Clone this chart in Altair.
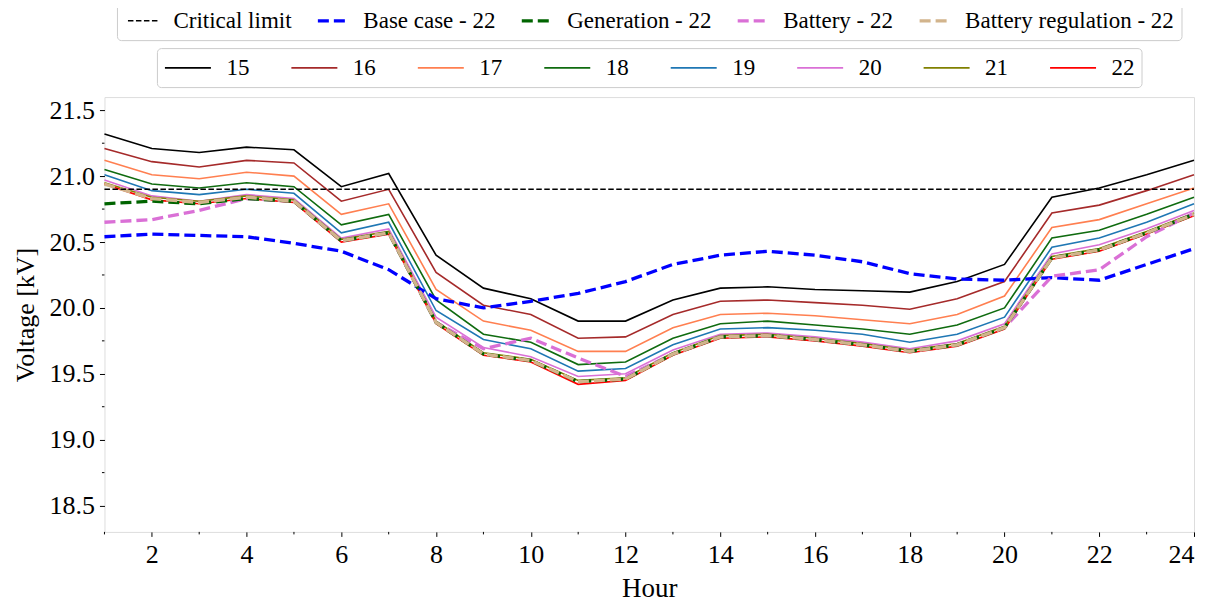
import altair as alt
import pandas as pd

# ---------------- data ----------------
hours = list(range(1, 25))

bus_names = ["15", "16", "17", "18", "19", "20", "21", "22"]
bus_colors = ["#000000", "#a52a2a", "#ff7f50", "#0f6b0f", "#1f77b4", "#da70d6", "#808000", "#ff0000"]

v15 = [21.32, 21.21, 21.18, 21.22, 21.20, 20.92, 21.02, 20.40, 20.15, 20.07, 19.90, 19.90,
       20.06, 20.15, 20.16, 20.14, 20.13, 20.12, 20.20, 20.33, 20.84, 20.91, 21.01, 21.12]
v16 = [21.21, 21.11, 21.07, 21.12, 21.10, 20.81, 20.90, 20.27, 20.02, 19.95, 19.77, 19.78,
       19.95, 20.05, 20.06, 20.04, 20.02, 19.99, 20.07, 20.20, 20.72, 20.78, 20.89, 21.01]
v17 = [21.12, 21.01, 20.98, 21.03, 21.00, 20.71, 20.79, 20.14, 19.90, 19.83, 19.67, 19.67,
       19.85, 19.95, 19.96, 19.94, 19.91, 19.88, 19.95, 20.09, 20.61, 20.67, 20.79, 20.91]
v18 = [21.05, 20.94, 20.91, 20.95, 20.92, 20.63, 20.71, 20.06, 19.80, 19.74, 19.57, 19.59,
       19.77, 19.88, 19.90, 19.87, 19.84, 19.80, 19.87, 20.00, 20.53, 20.59, 20.71, 20.84]
v19 = [21.01, 20.89, 20.86, 20.90, 20.87, 20.57, 20.65, 19.98, 19.76, 19.69, 19.52, 19.54,
       19.72, 19.84, 19.85, 19.83, 19.80, 19.74, 19.80, 19.93, 20.46, 20.53, 20.65, 20.79]
v20 = [20.97, 20.85, 20.81, 20.86, 20.83, 20.53, 20.60, 19.93, 19.70, 19.63, 19.48, 19.50,
       19.68, 19.80, 19.81, 19.78, 19.74, 19.69, 19.75, 19.88, 20.41, 20.48, 20.60, 20.74]
v21 = [20.95, 20.84, 20.81, 20.85, 20.82, 20.52, 20.58, 19.90, 19.66, 19.61, 19.45, 19.47,
       19.66, 19.79, 19.80, 19.77, 19.73, 19.68, 19.73, 19.86, 20.39, 20.45, 20.58, 20.72]
v22 = [20.94, 20.82, 20.79, 20.83, 20.80, 20.50, 20.56, 19.88, 19.64, 19.59, 19.42, 19.45,
       19.64, 19.77, 19.78, 19.75, 19.71, 19.66, 19.71, 19.84, 20.37, 20.43, 20.56, 20.70]

critical_limit = 20.9
base_case = [20.54, 20.56, 20.55, 20.54, 20.49, 20.43, 20.29, 20.07, 20.00, 20.05, 20.11, 20.20,
             20.33, 20.40, 20.43, 20.40, 20.35, 20.26, 20.22, 20.21, 20.23, 20.21, 20.33, 20.45]
generation = [20.79, 20.81, 20.79, 20.83, 20.81, 20.51, 20.57, 19.89, 19.65, 19.60, 19.44, 19.46,
              19.65, 19.78, 19.79, 19.76, 19.72, 19.67, 19.72, 19.85, 20.38, 20.44, 20.57, 20.71]
battery = [20.65, 20.67, 20.74, 20.83, 20.81, 20.51, 20.57, 19.89, 19.69, 19.77, 19.62, 19.48,
           19.65, 19.78, 19.79, 19.76, 19.72, 19.67, 19.72, 19.85, 20.24, 20.29, 20.54, 20.72]
battery_reg = [20.94, 20.83, 20.80, 20.84, 20.81, 20.51, 20.57, 19.89, 19.65, 19.60, 19.44, 19.46,
               19.65, 19.78, 19.79, 19.76, 19.72, 19.67, 19.72, 19.85, 20.38, 20.44, 20.57, 20.71]

dashed_names = ["Critical limit", "Base case - 22", "Generation - 22", "Battery - 22",
                "Battery regulation - 22"]
dashed_colors = ["#000000", "#0000ff", "#006400", "#da70d6", "#d2b48c"]
dashed_patterns = [[5.5, 2.5], [11, 5], [11, 5], [11, 5], [11, 5]]

x_ticks = list(range(2, 25, 2))
x_minor = list(range(1, 25, 2))
y_ticks = [18.5, 19.0, 19.5, 20.0, 20.5, 21.0, 21.5]
y_minor = [18.75, 19.25, 19.75, 20.25, 20.75, 21.25]

# ---------------- tables ----------------
solid_series = [v15, v16, v17, v18, v19, v20, v21, v22]
solid_rows = []
for name, vals in zip(bus_names, solid_series):
    for h, v in zip(hours, vals):
        solid_rows.append({"hour": h, "voltage": v, "bus": name})
solid_df = pd.DataFrame(solid_rows)

# drawing order (later drawn on top); lw = line width
dashed_draw = [
    ("Base case - 22", base_case, 3.3),
    ("Battery - 22", battery, 3.3),
    ("Generation - 22", generation, 3.3),
    ("Battery regulation - 22", battery_reg, 3.3),
    ("Critical limit", [critical_limit] * len(hours), 1.5),
]
dashed_rows = []
for i, (name, vals, lw) in enumerate(dashed_draw):
    for h, v in zip(hours, vals):
        dashed_rows.append({"hour": h, "voltage": v, "series": name, "order": i, "lw": lw})
dashed_df = pd.DataFrame(dashed_rows)

FONT = "Liberation Serif"

xscale = alt.Scale(domain=[1, 24], nice=False, zero=False)
yscale = alt.Scale(domain=[18.3, 21.6], nice=False, zero=False)

x_axis = alt.Axis(values=x_ticks, title="Hour", format="d", grid=False, domain=False,
                  tickSize=4.5, tickColor="black", tickWidth=1,
                  labelFont=FONT, labelFontSize=26, labelColor="black", labelPadding=5,
                  titleFont=FONT, titleFontSize=27, titleFontWeight="normal",
                  titleColor="black", titlePadding=8)
y_axis = alt.Axis(values=y_ticks, title="Voltage [kV]", format=".1f", grid=False, domain=False,
                  tickSize=5, tickColor="black", tickWidth=1,
                  labelFont=FONT, labelFontSize=26, labelColor="black", labelPadding=5,
                  titleFont=FONT, titleFontSize=26, titleFontWeight="normal",
                  titleColor="black", titlePadding=10)

# a line symbol twice as long as the nominal symbol box (keeps the legend rows low)
LINE_PATH = "M-2,0H2"

solid_legend = alt.Legend(
    title=None, orient="none", legendX=52.5, legendY=-49, direction="horizontal",
    columns=8, symbolType=LINE_PATH, symbolSize=529, symbolOffset=11.5,
    symbolStrokeWidth=1.6, symbolFillColor="transparent",
    labelFont=FONT, labelFontSize=23, labelColor="black", labelOffset=26, labelLimit=400,
    columnPadding=37.5, padding=7, strokeColor="#cccccc", fillColor="white",
    cornerRadius=4,
)

dashed_legend = alt.Legend(
    title=None, orient="none", legendX=12.5, legendY=-95, direction="horizontal",
    columns=5, symbolType=LINE_PATH, symbolSize=225, symbolOffset=7.5,
    symbolFillColor="transparent",
    symbolStrokeWidth=alt.expr("datum.value === 'Critical limit' ? 1.5 : 3.3"),
    labelFont=FONT, labelFontSize=23, labelColor="black", labelOffset=19, labelLimit=400,
    columnPadding=19, padding=7, strokeColor="#cccccc", fillColor="white",
    cornerRadius=4,
)

solid = alt.Chart(solid_df).mark_line(strokeWidth=1.6).encode(
    x=alt.X("hour:Q", scale=xscale, axis=x_axis),
    y=alt.Y("voltage:Q", scale=yscale, axis=y_axis),
    color=alt.Color("bus:N", scale=alt.Scale(domain=bus_names, range=bus_colors),
                    legend=solid_legend),
)

dashed = alt.Chart(dashed_df).mark_line().encode(
    x=alt.X("hour:Q", scale=xscale, axis=x_axis),
    y=alt.Y("voltage:Q", scale=yscale, axis=y_axis),
    color=alt.Color("series:N", scale=alt.Scale(domain=dashed_names, range=dashed_colors),
                    legend=dashed_legend),
    strokeDash=alt.StrokeDash("series:N",
                              scale=alt.Scale(domain=dashed_names, range=dashed_patterns),
                              legend=dashed_legend),
    strokeWidth=alt.StrokeWidth("lw:Q", scale=None),
    order=alt.Order("order:Q"),
)

ymin_df = pd.DataFrame({"voltage": y_minor})
xmin_df = pd.DataFrame({"hour": x_minor})

y_minor_ticks = alt.Chart(ymin_df).mark_rule(color="black", strokeWidth=1).encode(
    y=alt.Y("voltage:Q", scale=yscale, axis=y_axis),
    x=alt.value(0), x2=alt.value(-2.5),
)
x_minor_ticks = alt.Chart(xmin_df).mark_rule(color="black", strokeWidth=1).encode(
    x=alt.X("hour:Q", scale=xscale, axis=x_axis),
    y=alt.value(435), y2=alt.value(437.5),
)

chart = alt.layer(solid, dashed, y_minor_ticks, x_minor_ticks).resolve_scale(
    color="independent", strokeDash="independent"
).properties(
    width=1090, height=435,
    autosize=alt.AutoSizeParams(type="none"),
    padding={"left": 96.5, "top": 89, "right": 5, "bottom": 72},
).configure_view(
    stroke="black", strokeWidth=1
).configure(background="white")

chart.save("out.html", embed_options={"renderer": "svg", "actions": False})
